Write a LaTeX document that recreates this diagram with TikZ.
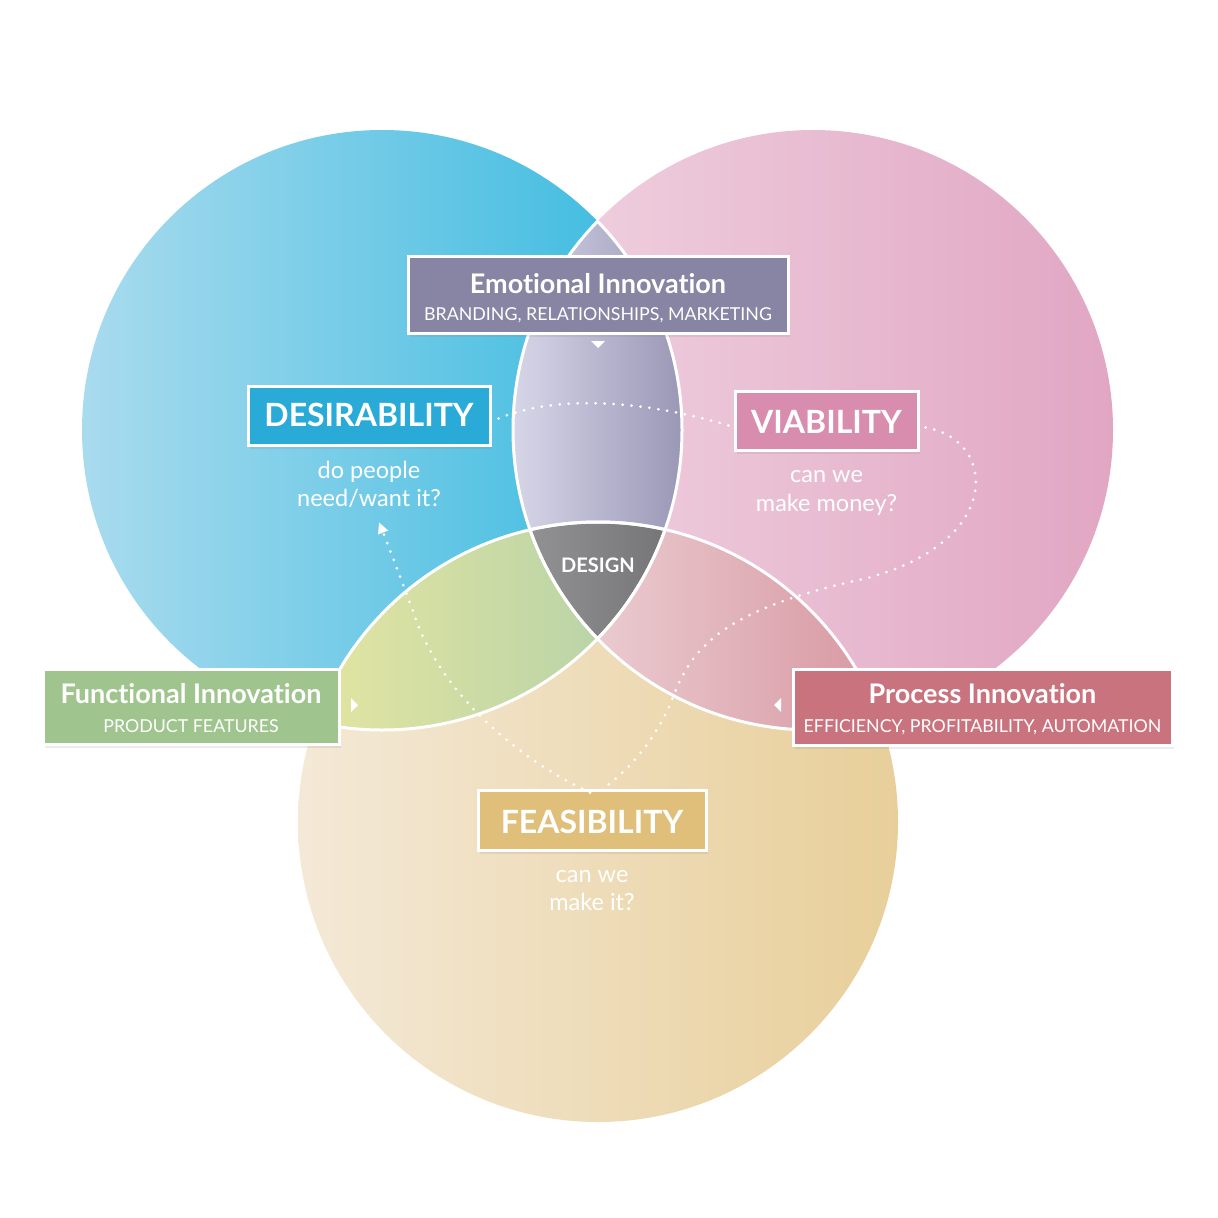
\documentclass[tikz,border=0pt]{standalone}
\usepackage{fontspec}
\setmainfont{Lato}[Ligatures={TeX,NoCommon}]
\usetikzlibrary{shadows,arrows.meta}
\definecolor{blueL}{HTML}{A9DBEE}
\definecolor{blueR}{HTML}{35B9DF}
\definecolor{pinkL}{HTML}{F0D3E1}
\definecolor{pinkR}{HTML}{E1A6C3}
\definecolor{yelL}{HTML}{F4E9D7}
\definecolor{yelR}{HTML}{E8CF9A}
\definecolor{bpL}{HTML}{D7D6E8}
\definecolor{bpR}{HTML}{9A97B6}
\definecolor{byL}{HTML}{E0E4A2}
\definecolor{byR}{HTML}{B3D1A8}
\definecolor{pyL}{HTML}{EDD4D8}
\definecolor{pyR}{HTML}{D99BA5}
\definecolor{triL}{HTML}{929294}
\definecolor{triR}{HTML}{757577}
\definecolor{emoC}{HTML}{8784A4}
\definecolor{desC}{HTML}{2AAAD6}
\definecolor{viaC}{HTML}{D88CAE}
\definecolor{funC}{HTML}{9FC48D}
\definecolor{proC}{HTML}{C9737F}
\definecolor{feaC}{HTML}{E0BF7A}
\begin{document}
\begin{tikzpicture}[x=1pt,y=-1pt,
  box/.style={draw=white, line width=3pt, inner sep=0pt,
    drop shadow={opacity=0.15,shadow xshift=2pt,shadow yshift=-4pt}},
  ttl/.style={text=white, font=\bfseries\fontsize{27}{30}\selectfont, inner sep=0pt, anchor=base},
  sub/.style={text=white, font=\fontsize{17.8}{22}\selectfont, inner sep=0pt, anchor=base},
  big/.style={text=white, font=\bfseries\fontsize{32}{36}\selectfont, inner sep=0pt, anchor=base},
  qtext/.style={text=white, font=\fontsize{23.5}{28}\selectfont, inner sep=0pt, anchor=base},
  dots/.style={white, line width=3pt, line cap=round, dash pattern=on 0pt off 9pt},
  ring/.style={white, line width=3pt}]
\fill[white] (0,0) rectangle (1218,1218);
\useasboundingbox (0,0) rectangle (1218,1218);
% circle centres
\coordinate (cB) at (382,430);
\coordinate (cP) at (813,430);
\coordinate (cY) at (598,822);
% circles
\shade[left color=blueL, right color=blueR] (cB) circle[radius=300pt];
\shade[left color=pinkL, right color=pinkR] (cP) circle[radius=300pt];
\shade[left color=yelL, right color=yelR] (cY) circle[radius=300pt];
% blue-pink lens
\begin{scope}
\clip (cB) circle[radius=300pt];
\clip (cP) circle[radius=300pt];
\shade[left color=bpL, right color=bpR] (513,160) rectangle (683,700);
\end{scope}
% blue-yellow lens
\begin{scope}
\clip (cB) circle[radius=300pt];
\clip (cY) circle[radius=300pt];
\shade[left color=byL, right color=byR] (335,520) rectangle (650,740);
\end{scope}
% pink-yellow lens
\begin{scope}
\clip (cP) circle[radius=300pt];
\clip (cY) circle[radius=300pt];
\shade[left color=pyL, right color=pyR] (546,520) rectangle (862,740);
\end{scope}
% triple
\begin{scope}
\clip (cB) circle[radius=300pt];
\clip (cP) circle[radius=300pt];
\clip (cY) circle[radius=300pt];
\shade[left color=triL, right color=triR] (528,520) rectangle (668,640);
\end{scope}
% white rings
\begin{scope}
\clip (cB) circle[radius=300pt];
\draw[ring] (cP) circle[radius=300pt];
\draw[ring] (cY) circle[radius=300pt];
\end{scope}
\begin{scope}
\clip (cP) circle[radius=300pt];
\draw[ring] (cB) circle[radius=300pt];
\draw[ring] (cY) circle[radius=300pt];
\end{scope}
\begin{scope}
\clip (cY) circle[radius=300pt];
\draw[ring] (cB) circle[radius=300pt];
\draw[ring] (cP) circle[radius=300pt];
\end{scope}
% DESIGN
\node[text=white, font=\bfseries\fontsize{20}{24}\selectfont, inner sep=0pt, anchor=base] (design) at (598,572) {DESIGN};
% boxes
\node[box, fill=emoC, minimum width=380pt, minimum height=77pt] (emo) at (598,294.5) {};
\node[ttl] (emoT) at (598,293) {Emotional Innovation};
\node[sub] (emoS) at (598,320) {BRANDING, RELATIONSHIPS, MARKETING};
\fill[white] (591,341) -- (605,341) -- (598,348) -- cycle;

\node[box, fill=desC, minimum width=242pt, minimum height=59pt] (des) at (369,415.5) {};
\node[big] (desT) at (369,426) {DESIRABILITY};
\node[qtext] (desq1) at (369,478) {do people};
\node[qtext] (desq2) at (369,506) {need/want it?};

\node[box, fill=viaC, minimum width=183pt, minimum height=59pt] (via) at (826.5,420.5) {};
\node[big] (viaT) at (826.5,433) {VIABILITY};
\node[qtext] (viaq1) at (826.5,482) {can we};
\node[qtext] (viaq2) at (826.5,511) {make money?};

\node[box, fill=funC, minimum width=296pt, minimum height=75pt] (fun) at (191,706.5) {};
\node[ttl] (funT) at (191,703) {Functional Innovation};
\node[sub] (funS) at (191,732) {PRODUCT FEATURES};
\fill[white] (351,698) -- (351,712) -- (358,705) -- cycle;

\node[box, fill=proC, minimum width=379pt, minimum height=76pt] (pro) at (982.5,707) {};
\node[ttl] (proT) at (982.5,703) {Process Innovation};
\node[sub] (proS) at (982.5,732) {EFFICIENCY, PROFITABILITY, AUTOMATION};
\fill[white] (781,698) -- (781,712) -- (774,705) -- cycle;

\node[box, fill=feaC, minimum width=228pt, minimum height=60pt] (fea) at (592,820) {};
\node[big] (feaT) at (592,833) {FEASIBILITY};
\node[qtext] (feaq1) at (592,882) {can we};
\node[qtext] (feaq2) at (592,910) {make it?};

% dotted connectors
\draw[dots] ([xshift=7pt,yshift=-3pt]des.east) .. controls (560,393) and (650,402) .. ([xshift=-5pt,yshift=-5pt]via.west);
\draw[dots] ([xshift=6pt,yshift=-7pt]via.east) .. controls (1000,440) and (1005,550) .. (850,582)
  .. controls (720,612) and (690,650) .. (672,700)
  .. controls (655,740) and (630,770) .. ([xshift=6pt,yshift=-4pt]fea.north);
\draw[dots, -{Triangle[width=10pt,length=11pt]}] ([xshift=-2pt,yshift=-4pt]fea.north) .. controls (520,760) and (450,700) .. (420,630)
  .. controls (405,590) and (392,555) .. ([xshift=10pt,yshift=-15pt]desq2.south);
\end{tikzpicture}
\end{document}
